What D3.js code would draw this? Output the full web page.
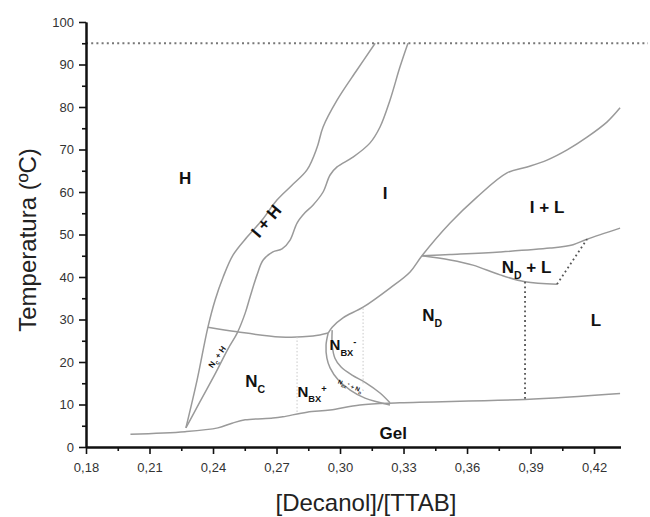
<!DOCTYPE html>
<html>
<head>
<meta charset="utf-8">
<script src="https://cdn.jsdelivr.net/npm/d3@7"></script>
<style>
  body { margin: 0; background: #fff; }
  text { font-family: "Liberation Sans", Arial, sans-serif; }
</style>
</head>
<body>
<svg id="chart" width="650" height="517"></svg>
<script>
// phase diagram TTAB / decanol / water: [Decanol]/[TTAB] vs temperature (ºC)
var xTicks = [0.18, 0.21, 0.24, 0.27, 0.30, 0.33, 0.36, 0.39, 0.42];
var xMinorTicks = [0.195, 0.225, 0.255, 0.285, 0.315, 0.345, 0.375, 0.405];
var yTicks = [0, 10, 20, 30, 40, 50, 60, 70, 80, 90, 100];
var yMinorTicks = [5, 15, 25, 35, 45, 55, 65, 75, 85, 95];

// solid boundaries
var gelLine = [[0.2010, 3.0], [0.2268, 3.6], [0.2423, 4.5], [0.2490, 5.6], [0.2552, 6.4], [0.2683, 6.8],
  [0.2730, 7.1], [0.2844, 8.2], [0.2953, 8.7], [0.3094, 9.9], [0.3283, 10.4], [0.3874, 11.2], [0.4323, 12.6]];
var hBoundary = [[0.2272, 4.5], [0.2325, 15.8], [0.2376, 28.2], [0.2410, 34.6], [0.2448, 40.0], [0.2495, 45.2],
  [0.2561, 49.4], [0.2632, 53.4], [0.2702, 58.1], [0.2773, 61.6], [0.2844, 65.2], [0.2891, 70.4],
  [0.2920, 75.3], [0.2986, 81.6], [0.3080, 88.7], [0.3166, 95]];
var ihBoundary = [[0.2272, 4.5], [0.2338, 10.6], [0.2410, 17.2], [0.2471, 23.1], [0.2514, 26.8], [0.2552, 31.5],
  [0.2575, 35.3], [0.2608, 40.5], [0.2637, 44.0], [0.2683, 45.9], [0.2726, 46.6], [0.2764, 48.7],
  [0.2797, 52.7], [0.2834, 55.1], [0.2872, 56.9], [0.2920, 60.0], [0.2953, 64.0], [0.2986, 65.9],
  [0.3061, 68.2], [0.3141, 71.5], [0.3189, 75.3], [0.3236, 81.6], [0.3283, 89.4], [0.3321, 95]];
var ncTop = [[0.2376, 28.2], [0.2514, 27.1], [0.2717, 25.9], [0.2872, 26.1], [0.2944, 26.8]];
var niBoundary = [[0.2944, 26.8], [0.2963, 28.2], [0.3014, 30.4], [0.3109, 32.9], [0.3236, 37.4], [0.3331, 41.2],
  [0.3387, 45.0], [0.3520, 52.7], [0.3647, 58.8], [0.3789, 64.5], [0.3884, 65.9], [0.3978, 67.5],
  [0.4073, 69.9], [0.4167, 72.9], [0.4262, 76.5], [0.4323, 79.8]];
var lensTop = [[0.3387, 45.0], [0.3520, 45.3], [0.3756, 45.9], [0.3992, 46.8], [0.4101, 47.6], [0.4167, 48.9], [0.4323, 51.5]];
var lensBottom = [[0.3387, 45.0], [0.3520, 44.0], [0.3628, 42.8], [0.3756, 40.5], [0.3874, 38.9], [0.4025, 38.3]];
var nbxOuter = [[0.2944, 26.8], [0.2934, 24.0], [0.2938, 20.9], [0.2953, 18.6], [0.2991, 15.8], [0.3048, 13.4],
  [0.3118, 11.5], [0.3236, 9.9]];
var nbxInner = [[0.2963, 27.5], [0.2963, 24.0], [0.2976, 20.9], [0.3005, 18.8], [0.3057, 16.9], [0.3122, 15.1],
  [0.3189, 12.7], [0.3236, 10.4]];

// dotted boundaries
var topDots = [[0.18, 95], [0.4455, 95]];
var lensEdge = [[0.4025, 38.3], [0.4167, 48.9]];
var ndlEdge = [[0.3874, 38.9], [0.3874, 11.2]];
var nbxLeftDots = [[0.2797, 25.9], [0.2797, 7.8]];
var nbxRightDots = [[0.3109, 32.6], [0.3109, 14.5]];

// region labels: position [x, T], text parts
var labels = [
  { at: [0.2268, 63.3], size: 17, parts: [["H"]] },
  { at: [0.2651, 53.2], size: 17, rot: -50, parts: [["I + H"]] },
  { at: [0.3213, 59.8], size: 17, parts: [["I"]] },
  { at: [0.3978, 56.5], size: 17, parts: [["I + L"]] },
  { at: [0.3881, 42.4], size: 17, parts: [["N"], ["D", "sub"], [" + L"]] },
  { at: [0.4209, 29.9], size: 17, parts: [["L"]] },
  { at: [0.3435, 31.0], size: 17, parts: [["N"], ["D", "sub"]] },
  { at: [0.2599, 15.5], size: 17, parts: [["N"], ["C", "sub"]] },
  { at: [0.2868, 13.0], size: 15, parts: [["N"], ["BX", "sub"], ["+", "sup"]] },
  { at: [0.3014, 24.0], size: 15, parts: [["N"], ["BX", "sub"], ["-", "sup"]] },
  { at: [0.2419, 21.2], size: 8, rot: -55, parts: [["N"], ["C", "sub"], [" + H"]] },
  { at: [0.3051, 14.3], size: 6, rot: 22, parts: [["N"], ["BX", "sub"], ["+", "sup"], [" + N"], ["D", "sub"], ["-", "sup"]] },
  { at: [0.3251, 3.3], size: 17, parts: [["Gel"]] }
];

var svg = d3.select("#chart");

var x = d3.scaleLinear().domain([0.18, 0.4325]).range([86, 620.5]);
var y = d3.scaleLinear().domain([0, 100]).range([447, 22]);

var comma = d3.formatLocale({ decimal: ",", thousands: ".", grouping: [3], currency: ["", ""] });

var line = d3.line()
  .x(function(d) { return x(d[0]); })
  .y(function(d) { return y(d[1]); })
  .curve(d3.curveCatmullRom.alpha(0.5));

var straight = d3.line()
  .x(function(d) { return x(d[0]); })
  .y(function(d) { return y(d[1]); });

// curves
var curves = svg.append("g").attr("class", "boundaries")
  .attr("fill", "none").attr("stroke", "#9a9a9a").attr("stroke-width", 1.5);

[gelLine, hBoundary, ihBoundary, ncTop, niBoundary, lensTop, lensBottom, nbxOuter, nbxInner]
  .forEach(function(pts) {
    curves.append("path").attr("d", line(pts));
  });

svg.append("path").attr("d", straight(topDots))
  .attr("fill", "none").attr("stroke", "#777").attr("stroke-width", 2)
  .attr("stroke-dasharray", "2,3.2");

[lensEdge, ndlEdge].forEach(function(pts) {
  svg.append("path").attr("d", straight(pts))
    .attr("fill", "none").attr("stroke", "#555").attr("stroke-width", 1.8)
    .attr("stroke-dasharray", "1.8,3");
});

[nbxLeftDots, nbxRightDots].forEach(function(pts) {
  svg.append("path").attr("d", straight(pts))
    .attr("fill", "none").attr("stroke", "#c8c8c8").attr("stroke-width", 1)
    .attr("stroke-dasharray", "1.5,2");
});

// labels
var labelG = svg.append("g").attr("class", "labels");
labels.forEach(function(l) {
  var px = x(l.at[0]), py = y(l.at[1]);
  var t = labelG.append("text")
    .attr("text-anchor", "middle")
    .attr("font-size", l.size)
    .attr("font-weight", "bold")
    .attr("fill", "#111")
    .attr("transform", "translate(" + px + "," + py + ")" + (l.rot ? " rotate(" + l.rot + ")" : ""))
    .attr("dy", "0.35em");
  var shift = 0;
  l.parts.forEach(function(p) {
    var span = t.append("tspan").text(p[0]);
    var want = 0;
    if (p[1] === "sub") { want = 0.35 * l.size; span.attr("font-size", l.size * 0.62); }
    if (p[1] === "sup") { want = -0.35 * l.size; span.attr("font-size", l.size * 0.62); }
    if (want !== shift) { span.attr("dy", want - shift); shift = want; }
  });
});

// axes
svg.append("g").attr("transform", "translate(0," + y(0) + ")")
  .call(d3.axisBottom(x).tickValues(xTicks).tickSize(7).tickSizeOuter(0).tickPadding(9)
    .tickFormat(comma.format(".2f")));
svg.append("g").attr("transform", "translate(0," + y(0) + ")")
  .call(d3.axisBottom(x).tickValues(xMinorTicks).tickSize(4).tickSizeOuter(0).tickFormat(""));

svg.append("g").attr("transform", "translate(" + x(0.18) + ",0)")
  .call(d3.axisLeft(y).tickValues(yTicks).tickSize(7).tickSizeOuter(0).tickPadding(5));
svg.append("g").attr("transform", "translate(" + x(0.18) + ",0)")
  .call(d3.axisLeft(y).tickValues(yMinorTicks).tickSize(4).tickSizeOuter(0).tickFormat(""));

svg.selectAll(".domain").attr("stroke", "#111").attr("stroke-width", 2);
svg.selectAll(".tick line").attr("stroke", "#111").attr("stroke-width", 1.6);
svg.selectAll(".tick text").attr("font-size", 13).attr("fill", "#333")
  .attr("font-family", "'Liberation Sans', Arial, sans-serif");

svg.append("text")
  .attr("x", 366).attr("y", 511)
  .attr("text-anchor", "middle")
  .attr("font-size", 24).attr("fill", "#222")
  .text("[Decanol]/[TTAB]");

svg.append("text")
  .attr("transform", "translate(36,240) rotate(-90)")
  .attr("text-anchor", "middle")
  .attr("font-size", 24).attr("fill", "#222")
  .text("Temperatura (ºC)");
</script>
</body>
</html>
